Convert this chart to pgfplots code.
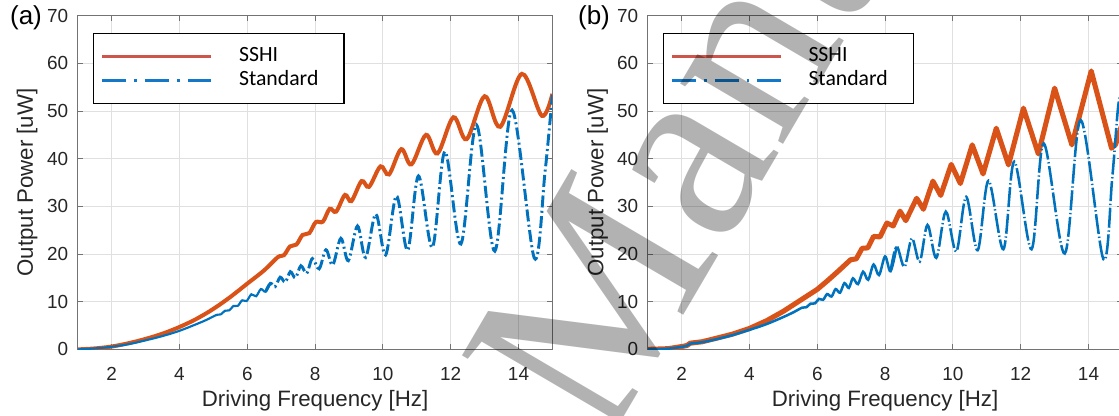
\documentclass[border=0pt]{standalone}
\usepackage{pgfplots}
\pgfplotsset{compat=1.18}
\usepackage{fontspec}
\setmainfont{Liberation Sans}
\newfontfamily\legfont{Carlito}
\newfontfamily\wmfont{Liberation Serif}

\definecolor{sshi}{RGB}{217,83,25}
\definecolor{stdb}{RGB}{0,114,189}
\definecolor{legred}{RGB}{205,85,75}
\definecolor{legblue}{RGB}{20,120,200}

\pgfplotsset{
  panel/.style={
    scale only axis, width=355.95pt, height=250.28pt,
    xmin=1, xmax=15, ymin=0, ymax=70,
    xtick={2,4,...,14}, ytick={0,10,...,70},
    tick align=inside, major tick length=3.75pt,
    grid=major, major grid style={line width=0.75pt, black!12},
    axis line style={line width=0.8pt, black!55},
    tick style={line width=0.8pt, black!55},
    /pgf/number format/assume math mode=true,
    tick label style={font=\fontsize{14.2}{16}\selectfont, text=black!85},
    xticklabel style={anchor=north, inner sep=0pt, yshift=-13.2pt},
    yticklabel style={anchor=east, inner sep=0pt, xshift=-7.1pt},
    xlabel={Driving Frequency [Hz]},
    ylabel={Output Power [uW]},
    every axis x label/.style={at={(axis description cs:0.5,-0.1546)}, anchor=center,
      font=\fontsize{16.7}{20}\selectfont, text=black!85},
    legend image code/.code={\draw[#1] (0pt,0pt) -- (81.75pt,0pt);},
    legend style={anchor=north west, draw=black, line width=0.9pt, fill=white,
      inner xsep=5.25pt, inner ysep=9.4pt, column sep=19.5pt, row sep=2.7pt,
      font=\legfont\fontsize{16.3}{18}\selectfont,
      nodes={inner sep=0pt, text height=11.5pt, text depth=4pt}},
  },
}

\begin{document}
\begin{tikzpicture}
\useasboundingbox (0,0) rectangle (839.25pt,312pt);

% ---------------- panel (a) ----------------
\begin{axis}[panel, at={(58.35pt,49.95pt)}, anchor=south west,
  every axis y label/.style={at={(axis description cs:-0.107,0.5)}, anchor=center, rotate=90,
      font=\fontsize{16.7}{20}\selectfont, text=black!85},
  legend style={at={(axis description cs:0.0326,0.949)}}]
\addlegendimage{legred, line width=2.4pt}
\addlegendentry{\makebox[73.5pt][l]{SSHI}}
\addlegendimage{legblue, line width=2.4pt, dash pattern=on 18pt off 6pt on 2pt off 6pt}
\addlegendentry{\makebox[73.5pt][l]{Standard}}
% SSHI harvester
\addplot[forget plot, sshi, line width=3pt, smooth, tension=0.55] coordinates {
 (1.0,0.0) (1.5,0.2) (2.0,0.6) (2.5,1.3) (3.0,2.2) (3.5,3.3) (4.0,4.7) (4.5,6.4)
 (5.0,8.5) (5.5,11.0) (6.0,13.8) (6.5,16.6) (6.9,19.35) (7.08,19.75) (7.26,21.6)
 (7.45,22.0) (7.63,24.0) (7.83,24.4) (8.02,26.7) (8.23,26.8) (8.43,29.5) (8.62,28.9)
 (8.88,32.4) (9.07,31.1) (9.37,35.3) (9.59,34.1) (9.93,38.4) (10.18,36.7)
 (10.54,42.0) (10.84,38.8) (11.27,45.0) (11.61,41.1) (12.08,48.7) (12.47,44.1)
 (13.0,53.1) (13.46,46.7) (14.1,57.8) (14.69,49.0) (15.0,53.6)};
% standard interface, low band
\addplot[forget plot, stdb, line width=1.6pt, smooth, tension=0.55] coordinates {
 (1.0,0.0) (1.5,0.2) (2.0,0.55) (2.5,1.1) (3.0,1.9) (3.5,2.8) (4.0,3.9) (4.5,5.3)
 (4.8,6.2) (5.10,7.25) (5.22,7.35) (5.34,8.1) (5.47,8.2) (5.59,9.1) (5.72,9.15)
 (5.85,10.3) (5.98,10.15) (6.12,11.55) (6.26,11.15) (6.40,12.65) (6.54,12.1)
 (6.68,13.85)};
% standard interface, high band
\addplot[forget plot, stdb, line width=2.2pt, smooth, tension=0.55,
  dash pattern=on 9pt off 2.5pt on 1.5pt off 2.5pt] coordinates {
 (6.54,12.1) (6.68,13.85) (6.82,13.15) (6.97,15.15) (7.12,14.1) (7.27,16.3) (7.42,15.0)
 (7.58,17.55) (7.75,15.95) (7.92,19.05) (8.12,16.9) (8.32,20.9) (8.52,17.7)
 (8.76,23.3) (8.98,18.6) (9.25,25.9) (9.49,19.3) (9.79,28.4) (10.08,19.8)
 (10.4,32.2) (10.73,20.8) (11.05,36.4) (11.46,21.4) (11.83,41.5) (12.3,22.1)
 (12.76,47.1) (13.3,20.6) (13.81,50.2) (14.47,19.1) (14.78,37.0) (15.0,53.4)};
\end{axis}

% ---------------- panel (b) ----------------
\begin{axis}[panel, at={(485.85pt,49.95pt)}, anchor=south west,
  every axis y label/.style={at={(axis description cs:-0.106,0.5)}, anchor=center, rotate=90,
      font=\fontsize{16.7}{20}\selectfont, text=black!85},
  legend style={at={(axis description cs:0.0314,0.949)}}]
\addlegendimage{legred, line width=2.4pt}
\addlegendentry{\makebox[73.5pt][l]{SSHI}}
\addlegendimage{legblue, line width=2.4pt, dash pattern=on 18pt off 6pt on 2pt off 6pt}
\addlegendentry{\makebox[73.5pt][l]{Standard}}
% SSHI harvester
\addplot[forget plot, sshi, line width=3.8pt, line join=round] coordinates {
 (1.0,0.0) (1.6,0.15) (2.0,0.6) (2.15,0.8) (2.25,1.3) (2.6,1.6) (3.0,2.3) (3.5,3.2)
 (4.0,4.4) (4.5,6.0) (5.0,8.0) (5.5,10.3) (6.0,12.6) (6.3,14.4) (6.6,16.3)
 (6.98,18.8) (7.15,19.0) (7.32,21.2) (7.49,21.3) (7.66,23.7) (7.85,23.6)
 (8.05,26.5) (8.24,25.9) (8.44,29.0) (8.61,27.0) (8.93,31.7) (9.13,29.4)
 (9.41,35.3) (9.64,32.3) (9.95,38.8) (10.22,34.8) (10.57,42.9) (10.89,36.8)
 (11.28,46.4) (11.64,38.7) (12.08,50.6) (12.52,41.0) (13.0,54.8) (13.51,42.9)
 (14.08,58.4) (14.68,42.2) (14.8,43.0) (15.0,47.5)};
% standard interface, low band
\addplot[forget plot, stdb, line width=1.9pt, smooth, tension=0.55] coordinates {
 (1.0,0.0) (1.6,0.15) (2.0,0.55) (2.15,0.75) (2.25,1.2) (2.6,1.5) (3.0,2.1) (3.5,3.0)
 (4.0,4.1) (4.5,5.3) (5.0,6.8) (5.3,7.8) (5.55,8.75) (5.68,8.85) (5.8,9.6) (5.93,9.65)
 (6.05,10.6) (6.17,10.4) (6.29,11.6) (6.42,11.1) (6.54,12.65) (6.67,11.9) (6.8,13.9)
 (6.93,12.9) (7.05,14.9) (7.2,13.7) (7.35,16.3) (7.5,14.6) (7.66,17.8) (7.82,15.6)
 (8.0,19.5) (8.16,16.4) (8.34,21.6)};
% standard interface, high band
\addplot[forget plot, stdb, line width=1.9pt, smooth, tension=0.55,
  dash pattern=on 15pt off 2pt on 1pt off 2pt] coordinates {
 (8.16,16.4) (8.34,21.6) (8.57,17.3) (8.79,23.3) (9.02,18.4) (9.25,26.1) (9.51,19.2)
 (9.79,28.9) (10.1,20.5) (10.39,32.0) (10.73,20.8) (11.05,35.4) (11.49,21.0)
 (11.81,39.4) (12.32,21.0) (12.68,43.2) (13.3,20.1) (13.77,48.1) (14.44,18.9)
 (14.7,36.0) (14.88,51.3) (15.0,54.0)};
\end{axis}

% panel tags
\node[font=\fontsize{19.5}{22}\selectfont] at (19.5pt,298.5pt) {(a)};
\node[font=\fontsize{19.5}{22}\selectfont] at (445.5pt,298.5pt) {(b)};

% watermark
\node[rotate=59.6, anchor=base west, inner sep=0pt, text=black, opacity=0.3,
  font=\wmfont\fontsize{195pt}{195pt}\selectfont] at (453.75pt,-24.75pt) {Manuscript};
\end{tikzpicture}
\end{document}
